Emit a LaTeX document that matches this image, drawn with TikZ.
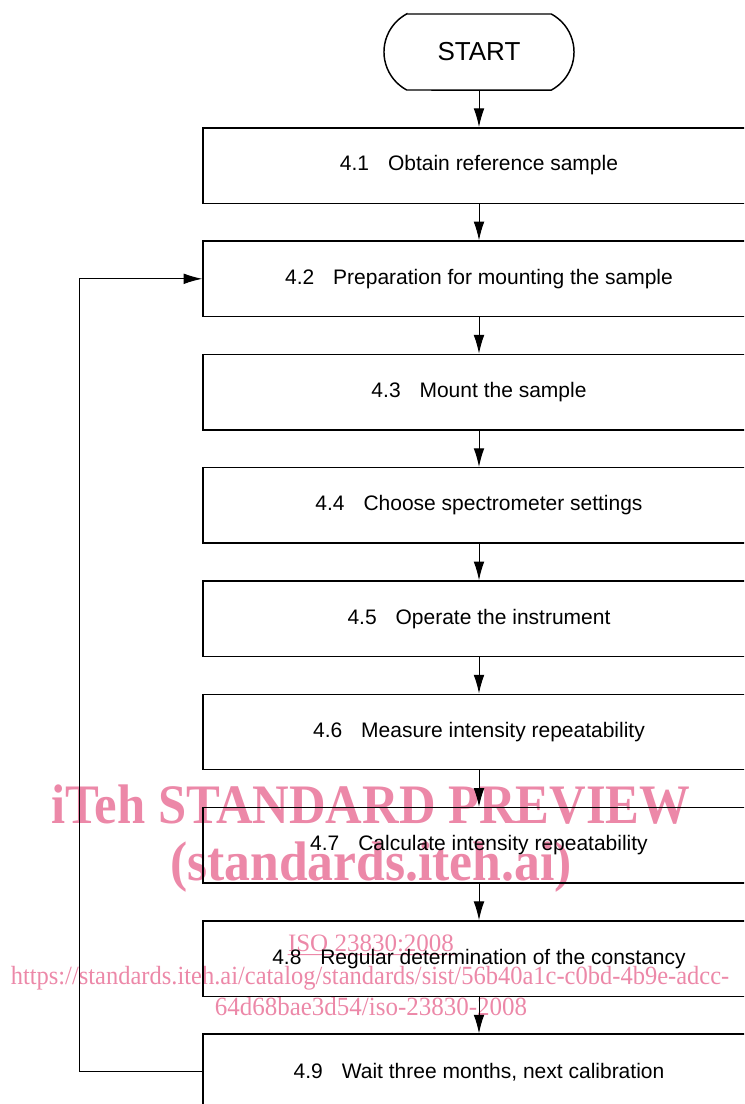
\documentclass[tikz,border=0pt]{standalone}
\usepackage{fontspec}
\setmainfont{Liberation Sans}
\newfontfamily\wmfont{Liberation Serif}
\usetikzlibrary{arrows.meta}
\definecolor{wmpink}{RGB}{236,136,168}
\begin{document}
\begin{tikzpicture}[x=0.75pt,y=-0.75pt,
  stepbox/.style={draw, line width=1.1pt, minimum width=414pt, minimum height=56.6pt, inner sep=0pt,
    font=\fontsize{15.75}{18}\selectfont},
  arr/.style={-{Latex[length=14pt,width=8pt]}, line width=0.75pt},
  wmbig/.style={text=wmpink, inner sep=0pt, anchor=base, font=\wmfont\bfseries\fontsize{38}{40}\selectfont},
  wmsmall/.style={text=wmpink, inner sep=0pt, anchor=base, font=\wmfont\fontsize{18.75}{20}\selectfont}]
\useasboundingbox (0,0) rectangle (744,1104);
\clip (0,0) rectangle (744,1104);
% watermark (beneath)
\node[wmbig] (wm1) at (371,823) {\scalebox{1}[1.1]{iTeh STANDARD PREVIEW}};
\node[wmbig] (wm2) at (371,880) {\scalebox{1.02}[1.1]{(standards.iteh.ai)}};
\node[wmsmall] (wm3) at (371,951) {ISO 23830:2008};
\draw[wmpink, line width=0.8pt] (wm3.south west) ++(0,3) -- ([yshift=-2.2pt]wm3.south east);
\node[wmsmall] (wm4) at (370,984) {\scalebox{0.98}[1.05]{https://standards.iteh.ai/catalog/standards/sist/56b40a1c-c0bd-4b9e-adcc-}};
\node[wmsmall] (wm5) at (371,1015) {\scalebox{1}[1.05]{64d68bae3d54/iso-23830-2008}};
% start terminal
\node[minimum width=141pt, minimum height=57pt, inner sep=0pt, font=\fontsize{19.5}{22}\selectfont] (start) at (479,52) {START};
\draw[line width=1.1pt] (406.7,14) -- (551.3,14) arc[start angle=-61.7, end angle=61.7, radius=43.2]
  -- (406.7,90) arc[start angle=118.3, end angle=241.7, radius=43.2] -- cycle;
% boxes
\node[stepbox] (b1) at (479,165.5) {4.1\hspace{0.9em}Obtain reference sample};
\node[stepbox] (b2) at (479,278.8) {4.2\hspace{0.9em}Preparation for mounting the sample};
\node[stepbox] (b3) at (479,392.1) {4.3\hspace{0.9em}Mount the sample};
\node[stepbox] (b4) at (479,505.4) {4.4\hspace{0.9em}Choose spectrometer settings};
\node[stepbox] (b5) at (479,618.7) {4.5\hspace{0.9em}Operate the instrument};
\node[stepbox] (b6) at (479,732.0) {4.6\hspace{0.9em}Measure intensity repeatability};
\node[stepbox] (b7) at (479,845.3) {4.7\hspace{0.9em}Calculate intensity repeatability};
\node[stepbox] (b8) at (479,958.6) {4.8\hspace{0.9em}Regular determination of the constancy};
\node[stepbox] (b9) at (479,1071.9) {4.9\hspace{0.9em}Wait three months, next calibration};
% connectors
\draw[arr] (start) -- (b1);
\draw[arr] (b1) -- (b2);
\draw[arr] (b2) -- (b3);
\draw[arr] (b3) -- (b4);
\draw[arr] (b4) -- (b5);
\draw[arr] (b5) -- (b6);
\draw[arr] (b6) -- (b7);
\draw[arr] (b7) -- (b8);
\draw[arr] (b8) -- (b9);
\coordinate (loopb) at (79,1071.9);
\coordinate (loopt) at (79,278.8);
\draw[arr] (b9.west) -- (loopb) -- (loopt) -- (b2.west);
\end{tikzpicture}
\end{document}
